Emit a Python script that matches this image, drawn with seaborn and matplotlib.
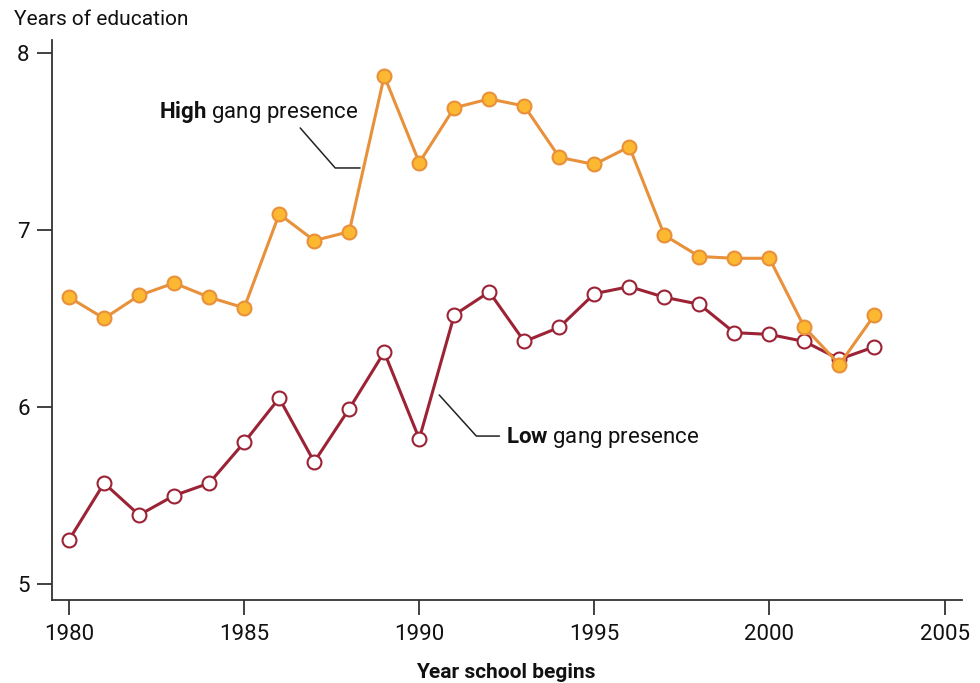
import pandas as pd
import matplotlib
matplotlib.use("Agg")
import matplotlib.pyplot as plt
import seaborn as sns

# Data
years = list(range(1980, 2004))
high_gang = [6.62, 6.50, 6.63, 6.70, 6.62, 6.56, 7.09, 6.94, 6.99, 7.87, 7.38, 7.69,
             7.74, 7.70, 7.41, 7.37, 7.47, 6.97, 6.85, 6.84, 6.84, 6.45, 6.24, 6.52]
low_gang = [5.25, 5.57, 5.39, 5.50, 5.57, 5.80, 6.05, 5.69, 5.99, 6.31, 5.82, 6.52,
            6.65, 6.37, 6.45, 6.64, 6.68, 6.62, 6.58, 6.42, 6.41, 6.37, 6.27, 6.34]
x_ticks = [1980, 1985, 1990, 1995, 2000, 2005]
y_ticks = [5, 6, 7, 8]

sns.set_theme(style="ticks")
font = ["Roboto", "DejaVu Sans"]
plt.rcParams["font.family"] = font
plt.rcParams["mathtext.fontset"] = "custom"
plt.rcParams["mathtext.rm"] = "Roboto"
plt.rcParams["mathtext.bf"] = "Roboto:bold"

ORANGE_LINE = "#E8903A"
ORANGE_FILL = "#FDB831"
RED = "#9B2335"
FS = 15

df = pd.DataFrame({"year": years, "high": high_gang, "low": low_gang})

fig = plt.figure(figsize=(9.8, 6.83), dpi=100)
ax = fig.add_axes([0.053, 0.1215, 0.929, 0.82])

sns.lineplot(data=df, x="year", y="low", ax=ax, color=RED, linewidth=2.2,
             marker="o", markersize=10, markerfacecolor="white",
             markeredgecolor=RED, markeredgewidth=1.5)
sns.lineplot(data=df, x="year", y="high", ax=ax, color=ORANGE_LINE, linewidth=2.2,
             marker="o", markersize=10, markerfacecolor=ORANGE_FILL,
             markeredgecolor=ORANGE_LINE, markeredgewidth=1.5)

ax.set_xlim(1979.51, 2005.51)
ax.set_ylim(4.91, 8.073)
ax.set_xticks(x_ticks)
ax.set_yticks(y_ticks)
ax.set_xlabel("")
ax.set_ylabel("")
ax.tick_params(axis="both", labelsize=FS + 1, length=11, width=1.3, colors="#333333",
               labelcolor="#111111")
ax.tick_params(axis="x", pad=6)
ax.tick_params(axis="y", pad=5)
for side in ["top", "right"]:
    ax.spines[side].set_visible(False)
for side in ["left", "bottom"]:
    ax.spines[side].set_linewidth(1.3)
    ax.spines[side].set_color("#333333")

# leader lines and series labels
ax.plot([1986.6, 1987.6, 1988.31], [7.576, 7.35, 7.35], color="#222222", lw=1.1)
ax.text(1988.26, 7.633, r"$\bf{High}$ gang presence", ha="right", va="baseline",
        fontsize=FS + 1, color="#111111")
ax.plot([1990.57, 1991.63, 1992.29], [6.068, 5.836, 5.836], color="#222222", lw=1.1)
ax.text(1992.49, 5.797, r"$\bf{Low}$ gang presence", ha="left", va="baseline",
        fontsize=FS + 1, color="#111111")

fig.text(14 / 980, 1 - 25 / 683, "Years of education", ha="left", va="baseline",
         fontsize=FS, color="#111111")
fig.text(506 / 980, 1 - 678 / 683, "Year school begins", ha="center", va="baseline",
         fontsize=FS, fontweight="bold", color="#111111")

fig.savefig("out.png", dpi=100)
